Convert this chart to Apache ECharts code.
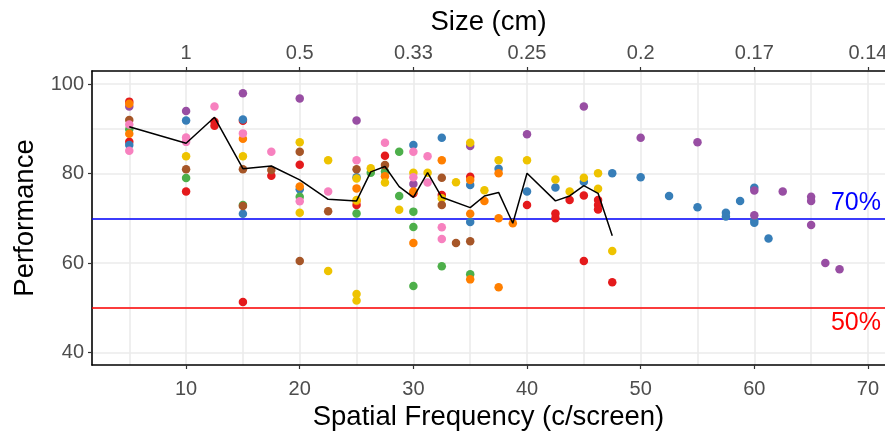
<!DOCTYPE html>
<html>
<head>
<meta charset="utf-8">
<style>
html,body{margin:0;padding:0;background:#fff;}
#chart{width:885px;height:434px;}
</style>
<script src="https://cdn.jsdelivr.net/npm/echarts@6/dist/echarts.min.js"></script>
</head>
<body>
<div id="chart"></div>
<script>
// ---- data ----
const xTicks = [10, 20, 30, 40, 50, 60, 70];
const sizeLabels = ["1", "0.5", "0.33", "0.25", "0.2", "0.17", "0.14"];
const yTicks = [40, 60, 80, 100];
const xGrid = [5, 10, 15, 20, 25, 30, 35, 40, 45, 50, 55, 60, 65, 70];
const yGrid = [40, 50, 60, 70, 80, 90, 100];

const redPts = [[5,96.1],[5,87.1],[10,76.0],[12.5,91.6],[12.5,90.7],[15,91.8],[15,51.3],[17.5,79.5],[20,82.0],[25,73.0],[27.5,84.0],[30,75.6],[32.5,75.2],[35,79.3],[40,73.0],[42.5,71.1],[42.5,70.0],[43.75,74.1],[45,75.1],[45,60.45],[46.25,74.1],[46.25,73.0],[46.25,72.0],[47.5,55.7]];
const bluePts = [[5,86.4],[10,91.9],[15,92.1],[15,71.0],[20,76.5],[25,79.2],[30,86.4],[32.5,88.0],[35,77.45],[35,69.2],[37.5,81.1],[40,76.0],[42.5,76.9],[45,78.2],[47.5,80.1],[50,79.2],[52.5,75.0],[55,72.5],[57.5,71.25],[57.5,70.4],[58.75,73.9],[60,76.85],[60,69.6],[60,69.0],[61.25,65.5]];
const greenPts = [[5,89.9],[10,79.0],[15,73.0],[20,74.8],[25,71.1],[26.25,80.2],[27.5,80.5],[28.75,84.9],[28.75,75.0],[30,71.5],[30,68.05],[30,54.85],[32.5,59.3],[35,57.5]];
const purplePts = [[5,95.0],[10,94.0],[15,98.0],[20,96.8],[25,91.9],[30,77.7],[35,86.2],[40,88.8],[45,95.0],[50,88.0],[55,87.0],[60,76.2],[60,70.7],[62.5,76.0],[65,74.8],[65,73.9],[65,68.5],[66.25,60.0],[67.5,58.6]];
const orangePts = [[5,95.6],[5,88.9],[15,87.8],[20,77.1],[25,76.7],[25,73.9],[27.5,79.4],[30,76.0],[30,64.5],[32.5,83.0],[35,78.6],[35,71.0],[35,56.35],[36.25,73.9],[37.5,80.1],[37.5,70.0],[37.5,54.6],[38.75,68.9]];
const yellowPts = [[10,83.9],[15,83.9],[20,87.0],[20,71.25],[22.5,83.0],[22.5,58.2],[25,78.9],[25,74.1],[25,53.1],[25,51.6],[26.25,81.2],[27.5,78.0],[28.75,71.9],[30,80.2],[31.25,80.2],[32.5,74.5],[33.75,78.05],[35,86.9],[36.25,76.3],[37.5,83.0],[40,83.0],[42.5,78.7],[43.75,76.0],[45,79.1],[46.25,80.1],[46.25,76.6],[47.5,62.7]];
const brownPts = [[5,92.0],[10,81.0],[15,81.0],[15,72.75],[17.5,80.8],[20,84.9],[20,60.45],[22.5,71.6],[25,81.0],[27.5,81.9],[32.5,79.1],[32.5,73.0],[33.75,64.5],[35,64.9]];
const pinkPts = [[5,91.0],[5,85.1],[10,88.1],[10,87.1],[12.5,95.0],[15,89.0],[17.5,84.9],[20,73.8],[22.5,76.0],[25,83.0],[27.5,86.9],[30,84.9],[30,79.2],[31.25,83.9],[31.25,78.0],[32.5,68.0],[32.5,65.4]];

const meanX = [5,10,12.5,15,17.5,20,22.5,25,26.25,27.5,28.75,30,31.25,32.5,35,36.25,37.5,38.75,40,42.5,43.75,45,46.25,47.5];
const meanY = [90.5,86.8,92.6,81.1,81.7,78.6,74.25,73.9,80.4,81.6,77.1,74.7,80.2,74.7,72.4,75.0,75.8,68.9,80.1,73.9,75.0,77.3,75.6,66.1];

const refLines = [{value: 70, label: "70%", color: "#0000FF", pos: "insideEndTop"},
                  {value: 50, label: "50%", color: "#FF0000", pos: "insideEndBottom"}];

// ---- chart ----
const FONT = "Liberation Sans, Arial, sans-serif";
const groups = [
  ["red", "#E41A1C", redPts], ["blue", "#377EB8", bluePts], ["green", "#4DAF4A", greenPts],
  ["purple", "#984EA3", purplePts], ["orange", "#FF7F00", orangePts], ["yellow", "#EEC300", yellowPts],
  ["brown", "#A65628", brownPts], ["pink", "#F781BF", pinkPts]
];

const chart = echarts.init(document.getElementById("chart"), null, {renderer: "canvas"});

const series = [];
series.push({
  type: "line", data: [], z: 0, silent: true, animation: false,
  markLine: {
    z: 0, silent: true, symbol: ["none", "none"], animation: false,
    label: {show: false},
    lineStyle: {color: "#EBEBEB", width: 1.6, type: "solid"},
    emphasis: {disabled: true},
    data: xGrid.map(v => ({xAxis: v})).concat(yGrid.map(v => ({yAxis: v})))
  }
});
refLines.forEach(r => {
  series.push({
    type: "line", data: [], z: 1, silent: true, animation: false,
    markLine: {
      z: 1, silent: true, symbol: ["none", "none"], animation: false,
      emphasis: {disabled: true},
      lineStyle: {color: r.color, width: 1.5, type: "solid"},
      label: {show: true, formatter: r.label, position: r.pos, color: r.color,
              fontFamily: FONT, fontSize: 25, distance: [4, 3]},
      data: [{yAxis: r.value}]
    }
  });
});
groups.forEach(g => {
  series.push({
    name: g[0], type: "scatter", data: g[2], z: 3, symbolSize: 8.5,
    itemStyle: {color: g[1], opacity: 1}, animation: false
  });
});
series.push({
  type: "line", data: meanX.map((x, i) => [x, meanY[i]]), z: 4, showSymbol: false, symbol: "none",
  lineStyle: {color: "#000", width: 1.5}, animation: false
});

chart.setOption({
  backgroundColor: "#fff",
  animation: false,
  grid: {left: 92, right: 0, top: 71, bottom: 69, containLabel: false, outerBoundsMode: "none"},
  xAxis: [{
    type: "value", position: "bottom", min: 1.72, max: 71.5,
    name: "Spatial Frequency (c/screen)", nameLocation: "middle", nameGap: 37,
    nameTextStyle: {color: "#000", fontSize: 27.5, fontFamily: FONT},
    axisLine: {show: true, lineStyle: {color: "#000", width: 1.6}},
    axisTick: {show: true, customValues: xTicks, length: 4, lineStyle: {color: "#333", width: 1.2}},
    axisLabel: {show: true, customValues: xTicks, color: "#4D4D4D", fontSize: 20, fontFamily: FONT, margin: 14},
    splitLine: {show: false}
  }, {
    type: "value", position: "top", min: 1.72, max: 71.5,
    name: "Size (cm)", nameLocation: "middle", nameGap: 35,
    nameTextStyle: {color: "#000", fontSize: 27.5, fontFamily: FONT},
    axisLine: {show: true, lineStyle: {color: "#000", width: 1.6}},
    axisTick: {show: true, customValues: xTicks, length: 4, lineStyle: {color: "#333", width: 1.2}},
    axisLabel: {show: true, customValues: xTicks, color: "#4D4D4D", fontSize: 20, fontFamily: FONT, margin: 8,
      formatter: v => { const i = xTicks.indexOf(Math.round(v)); return i >= 0 ? sizeLabels[i] : ""; }},
    splitLine: {show: false}
  }],
  yAxis: [{
    type: "value", min: 37.2, max: 102.95,
    name: "Performance", nameLocation: "middle", nameGap: 51, nameRotate: 90,
    nameTextStyle: {color: "#000", fontSize: 27.5, fontFamily: FONT},
    axisLine: {show: true, lineStyle: {color: "#000", width: 1.6}},
    axisTick: {show: true, customValues: yTicks, length: 4, lineStyle: {color: "#333", width: 1.2}},
    axisLabel: {show: true, customValues: yTicks, color: "#4D4D4D", fontSize: 20, fontFamily: FONT, margin: 8},
    splitLine: {show: false}
  }],
  series: series
});
</script>
</body>
</html>
